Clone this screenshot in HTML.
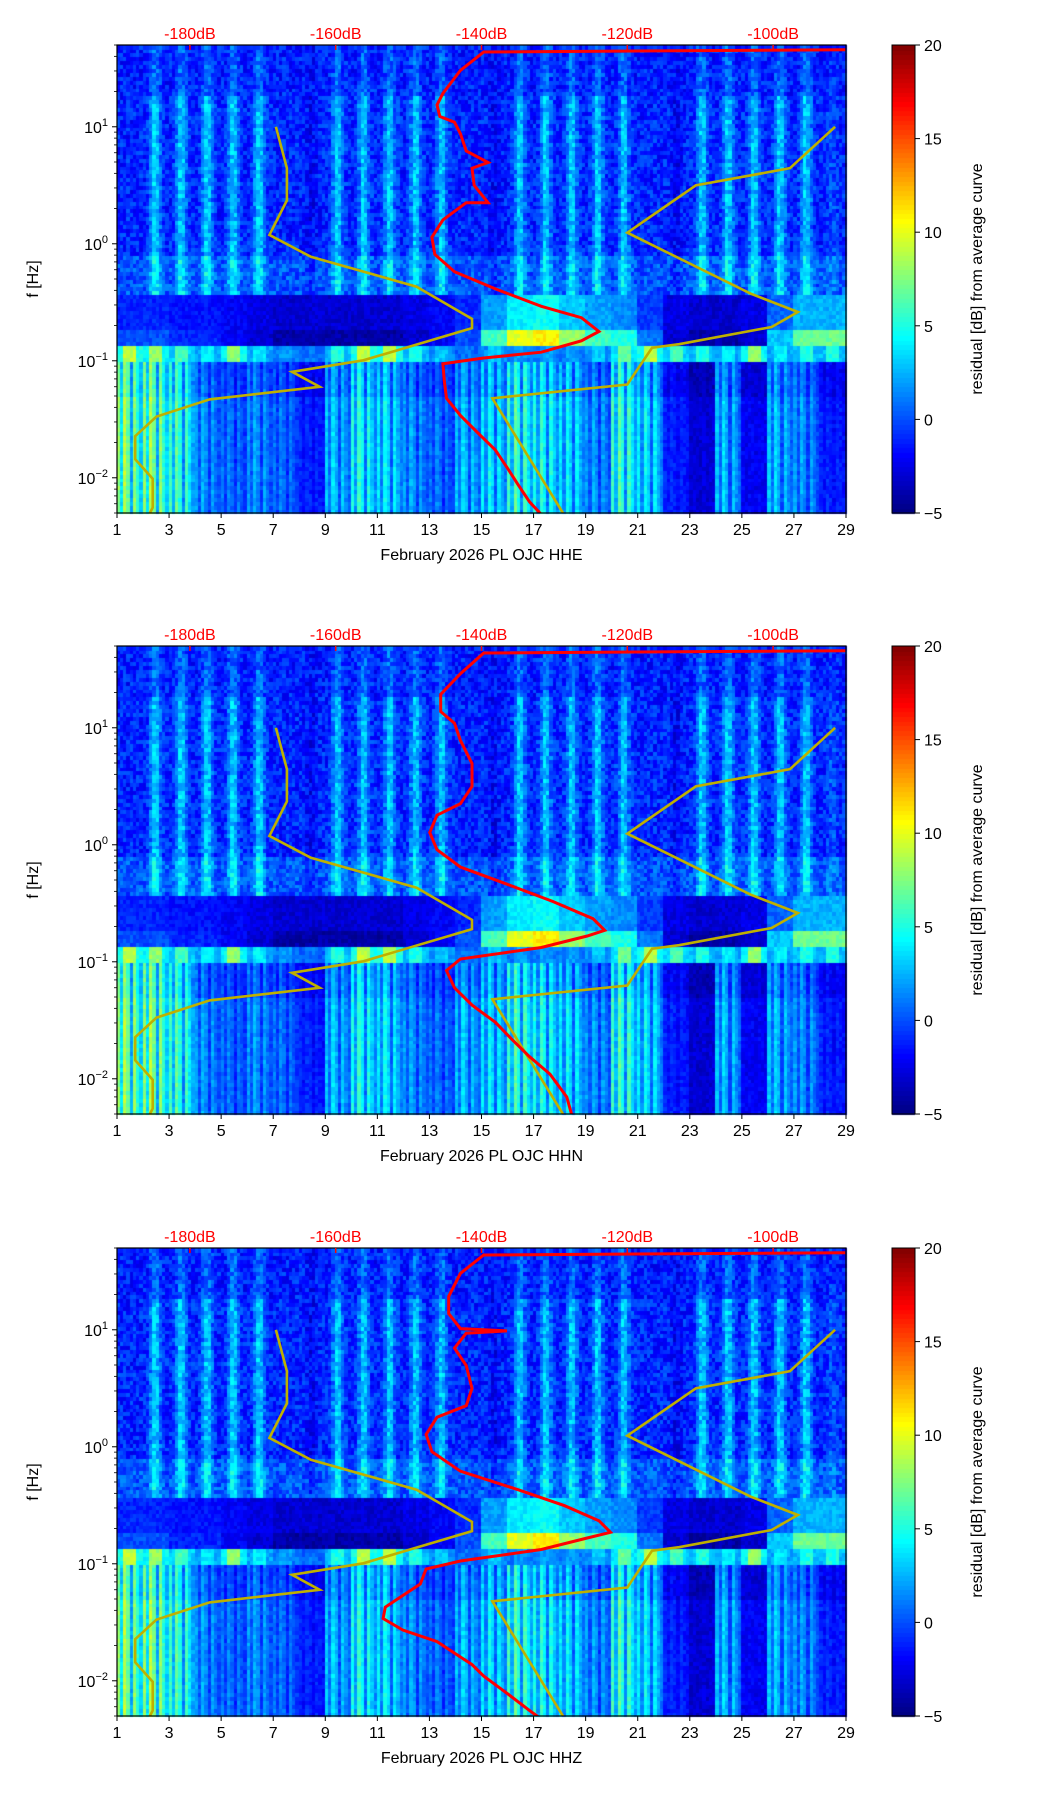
<!DOCTYPE html>
<html><head><meta charset="utf-8">
<style>
html,body{margin:0;padding:0;background:#fff;}
#wrap{position:relative;width:1052px;height:1806px;}
canvas{position:absolute;left:0;top:0;}
svg{position:absolute;left:0;top:0;}
text{font-family:"Liberation Sans",sans-serif;}
</style></head>
<body>
<div id="wrap">
<canvas id="cv" width="1052" height="1806"></canvas>
<svg id="sv" width="1052" height="1806" xmlns="http://www.w3.org/2000/svg"></svg>
</div>
<script>
// ---- data ----
const channels = ["HHE","HHN","HHZ"];
const xTicks = [1,3,5,7,9,11,13,15,17,19,21,23,25,27,29];
const dbTicks = [-180,-160,-140,-120,-100];
const cbTicks = [20,15,10,5,0,-5];
// per-day spectrogram levels (days 1..28)
const hfAct = [0,4,4,4,4,4,0,-1,4,4,4,4,4,0,-1,4,4,4,4,4,0,-1,4,4,4,4,4,1];
const msHigh = [0,0,-1,-1,-2,-3,-4,-4,-4,-4,-4,-3,-2,0,6,10,11,8,6,5,1,-3,-4,-4,-3,3,7,7];
const msBlob = [9,8,6,4,8,4,2,1,5,9,9,5,3,1,3,2,2,2,3,7,9,6,5,4,8,4,5,5];
const lfAct = [8,8,6,2,1,2,1,-1,3,5,4,2,1,3,4,6,5,4,2,6,4,-1,-3,3,-2,3,2,-1];
// noise models: [dB, log10 f]
const nlnmDb = [-168.2,-166.7,-166.7,-169.1,-163.4,-148.9,-141.3,-141.3,-156.2,-166,-162.2,-177.3,-184.6,-187.5,-187.5,-185.1,-185.1,-185.6];
const nlnmLf = [1,0.646,0.371,0.076,-0.111,-0.367,-0.642,-0.721,-0.996,-1.094,-1.222,-1.330,-1.478,-1.645,-1.842,-2.009,-2.255,-2.314];
const nhnmDb = [-91.5,-97.7,-110.6,-120,-103.1,-96.6,-100.2,-112.9,-116.6,-120,-138.5,-128.7];
const nhnmLf = [1,0.646,0.499,0.095,-0.426,-0.583,-0.711,-0.858,-0.888,-1.203,-1.321,-2.314];
// PSD curves per channel
const psdDb1 = [-90.1,-139.7,-142.9,-145.3,-146.1,-145.7,-143.7,-142.9,-142.1,-139.1,-141.3,-141.0,-139.1,-142.1,-145.3,-146.8,-146.4,-143.7,-138.1,-131.8,-126.3,-123.9,-126.3,-131.8,-139.7,-145.3,-145.1,-144.8,-142.9,-140.5,-138.1,-136.5,-135.0,-133.4,-131.8];
const psdLf1 = [1.659,1.639,1.482,1.285,1.187,1.088,1.039,0.941,0.794,0.695,0.646,0.499,0.351,0.351,0.204,0.056,-0.091,-0.239,-0.386,-0.534,-0.632,-0.750,-0.829,-0.927,-0.976,-1.026,-1.173,-1.321,-1.468,-1.616,-1.763,-1.911,-2.058,-2.206,-2.314];
const psdDb2 = [-90.1,-139.7,-142.9,-145.6,-145.6,-143.7,-142.9,-141.3,-141.3,-142.9,-146.1,-147.1,-146.1,-142.9,-136.5,-130.2,-124.7,-123.1,-125.5,-131.8,-142.9,-144.8,-143.7,-141.3,-138.1,-135.8,-133.4,-130.6,-128.3,-127.6];
const psdLf2 = [1.659,1.639,1.462,1.285,1.138,1.039,0.892,0.695,0.499,0.351,0.253,0.105,-0.042,-0.190,-0.337,-0.485,-0.632,-0.731,-0.780,-0.878,-0.976,-1.075,-1.222,-1.370,-1.517,-1.665,-1.812,-1.960,-2.156,-2.314];
const psdDb3 = [-90.1,-139.7,-142.9,-144.5,-144.5,-142.9,-136.5,-142.1,-143.7,-142.1,-141.3,-142.1,-146.1,-147.6,-146.8,-142.9,-135.0,-128.6,-123.9,-122.3,-125.5,-131.8,-142.9,-147.6,-148.4,-150.8,-153.2,-153.5,-150.8,-146.1,-143.7,-141.3,-139.7,-136.5,-133.4,-132.1];
const psdLf3 = [1.659,1.639,1.482,1.285,1.138,1.010,0.990,0.971,0.843,0.695,0.499,0.351,0.253,0.105,-0.042,-0.209,-0.367,-0.504,-0.632,-0.731,-0.780,-0.878,-0.976,-1.045,-1.173,-1.271,-1.370,-1.468,-1.566,-1.665,-1.763,-1.861,-1.960,-2.107,-2.255,-2.314];
const psdDbAll = [psdDb1,psdDb2,psdDb3];
const psdLfAll = [psdLf1,psdLf2,psdLf3];

// ---- layout ----
const X0=117,X1=846,H=468,TOPS=[45,646,1248];
const LFMIN=Math.log10(0.005),LFMAX=Math.log10(50);
const DBMIN=-190,DBMAX=-90,VMIN=-5,VMAX=20;
const CBX=892,CBW=23;
function xDay(d){return X0+(d-1)/28*(X1-X0);}
function xDb(v){return X0+(v-DBMIN)/(DBMAX-DBMIN)*(X1-X0);}
function yLf(top,l){return top+H-(l-LFMIN)/(LFMAX-LFMIN)*H;}
function jet(t){t=Math.max(0,Math.min(1,t));const c=v=>Math.round(255*Math.max(0,Math.min(1,v)));
 return `rgb(${c(1.5-Math.abs(4*t-3))},${c(1.5-Math.abs(4*t-2))},${c(1.5-Math.abs(4*t-1))})`;}
function vcol(v){return jet((v-VMIN)/(VMAX-VMIN));}

const NSUB=8;
const subHf=[0,0.1,0.5,1,0.9,0.4,0.1,0];
const subLf=[1,0.6,1.1,0.9,0.45,1,0.75,0.55];
// deterministic texture (not data)
function tex(a,b){const s=Math.sin(a*12.9898+b*78.233)*43758.5453;return s-Math.floor(s)-0.5;}
function cellVal(day,q,l,ci,r){
 const i=day-1;let v;
 if(l>1.25) v=-1.2+hfAct[i]*subHf[q]*0.5;
 else if(l>-0.45) v=-1+hfAct[i]*subHf[q]+(l<-0.1?1.2:0);
 else if(l>-0.72) v=msHigh[i]*0.5-1;
 else if(l>-0.86) v=msHigh[i];
 else if(l>-1.0) v=msBlob[i]*(q>=2&&q<=5?1:0.55);
 else { const base=-2.5; v=base+(lfAct[i]+2.5)*subLf[q]; if(l>-1.3) v-=0.8; }
 return v+tex(ci,r)*(l>-0.45?3:1.5);
}

const cv=document.getElementById('cv').getContext('2d');
const NS="http://www.w3.org/2000/svg";
const sv=document.getElementById('sv');
function mk(tag,attrs,parent,txt){const e=document.createElementNS(NS,tag);for(const k in attrs)e.setAttribute(k,attrs[k]);if(txt!==undefined)e.textContent=txt;(parent||sv).appendChild(e);return e;}

const ROWS=120;
TOPS.forEach((top,p)=>{
 for(let d=1;d<=28;d++){for(let q=0;q<NSUB;q++){
   const xa=xDay(d+q/NSUB),xb=xDay(d+(q+1)/NSUB);
   const ci=(d-1)*NSUB+q+p*311;
   for(let r=0;r<ROWS;r++){
     const la=LFMIN+r/ROWS*(LFMAX-LFMIN),lb=LFMIN+(r+1)/ROWS*(LFMAX-LFMIN);
     cv.fillStyle=vcol(cellVal(d,q,(la+lb)/2,ci,r));
     const ya=yLf(top,lb),yb=yLf(top,la);
     cv.fillRect(Math.floor(xa),Math.floor(ya),Math.ceil(xb-xa)+1,Math.ceil(yb-ya)+1);
   }}}
 const g=mk('g',{});
 
 
 const pts=(dbs,lfs)=>dbs.map((v,i)=>xDb(v).toFixed(1)+','+yLf(top,lfs[i]).toFixed(1)).join(' ');
 const clip=mk('clipPath',{id:'c'+p},g);mk('rect',{x:X0,y:top,width:X1-X0,height:H},clip);
 const l1=mk('polyline',{points:pts(nlnmDb,nlnmLf),fill:'none',stroke:'#bfb000','stroke-width':2.6,'clip-path':`url(#c${p})`},g);
 
 const l2=mk('polyline',{points:pts(nhnmDb,nhnmLf),fill:'none',stroke:'#bfb000','stroke-width':2.6,'clip-path':`url(#c${p})`},g);
 
 const l3=mk('polyline',{points:pts(psdDbAll[p],psdLfAll[p]),fill:'none',stroke:'#f00','stroke-width':3,'clip-path':`url(#c${p})`},g);
 
 const fr=mk('rect',{x:X0,y:top,width:X1-X0,height:H,fill:'none',stroke:'#000','stroke-width':1.2},g);
 
 xTicks.forEach(t=>{const x=xDay(t);mk('line',{x1:x,x2:x,y1:top+H,y2:top+H+5,stroke:'#000'},g);
   const tx=mk('text',{x:x,y:top+H+22,'font-size':16,'text-anchor':'middle'},g,String(t));
   });
 const xt=mk('text',{x:(X0+X1)/2,y:top+H+47,'font-size':16,'text-anchor':'middle','xml:space':'preserve'},g,'February 2026 PL OJC  '+channels[p]);
 
 for(let e=-3;e<=1;e++){for(let m=1;m<=9;m++){const l=e+Math.log10(m);if(l<LFMIN||l>LFMAX)continue;
   const y=yLf(top,l);mk('line',{x1:X0,x2:X0-(m===1?5:3),y1:y,y2:y,stroke:'#000','stroke-width':m===1?1:0.8},g);
   if(m===1){const tx=mk('text',{x:X0-9,y:y+6,'font-size':16,'text-anchor':'end'},g);
     
     mk('tspan',{},tx,'10');mk('tspan',{dy:-7,'font-size':11},tx,'\u2212'.repeat(e<0?1:0)+Math.abs(e));}}}
 const yt=mk('text',{x:0,y:0,'font-size':16,'text-anchor':'middle',transform:`translate(38,${top+H/2}) rotate(-90)`},g,'f [Hz]');
 
 dbTicks.forEach(v=>{const x=xDb(v);mk('line',{x1:x,x2:x,y1:top,y2:top+5,stroke:'#f00','stroke-width':1.5},g);
   const tx=mk('text',{x:x,y:top-6,'font-size':16,'text-anchor':'middle',fill:'#f00'},g,v+'dB');
   });
 const steps=100;
 for(let s=0;s<steps;s++){cv.fillStyle=jet((s+0.5)/steps);cv.fillRect(CBX,Math.floor(top+H-(s+1)/steps*H),CBW,Math.ceil(H/steps)+1);}
 const cb=mk('rect',{x:CBX,y:top,width:CBW,height:H,fill:'none',stroke:'#000','stroke-width':1},g);
 
 cbTicks.forEach(v=>{const y=top+H-(v-VMIN)/(VMAX-VMIN)*H;mk('line',{x1:CBX+CBW,x2:CBX+CBW+5,y1:y,y2:y,stroke:'#000'},g);
   const tx=mk('text',{x:CBX+CBW+9,y:y+6,'font-size':16},g,v<0?'\u2212'+Math.abs(v):String(v));
   });
 const ct=mk('text',{x:0,y:0,'font-size':16,'text-anchor':'middle',transform:`translate(982,${top+H/2}) rotate(-90)`},g,'residual [dB] from average curve');
 
});
</script>
</body></html>
